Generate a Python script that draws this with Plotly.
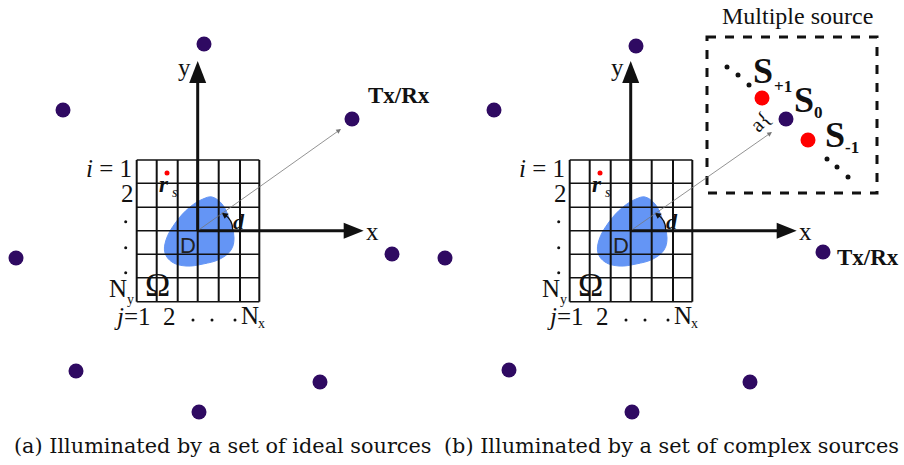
import plotly.graph_objects as go

W, H = 904, 465
OFF_B = 433  # horizontal offset of panel (b)

# Tx/Rx source positions (pixel coordinates of the diagram)
src_a_x = [204, 63, 352, 16, 392, 76, 320, 199]
src_a_y = [44, 110, 119, 258, 254, 371, 382, 412]
src_b_x = [636, 494, 445, 823, 509, 750, 632]
src_b_y = [46, 110, 258, 252, 370, 382, 412]

# multiple source inset
s0_x, s0_y = [786], [119]
red_src_x = [762, 808]
red_src_y = [98, 140]
small_dot_x = [727, 738, 749, 827, 837, 848]
small_dot_y = [67, 75, 85, 159, 167, 177]

# grid (Omega) edges for panel (a)
grid_cols = [136.7, 156.7, 177.7, 197.7, 218.7, 240.0, 259.3]
grid_rows = [160.0, 183.3, 207.3, 230.7, 254.3, 277.7, 301.7]
origin = (197.7, 230.7)

# scatterer D outline
blob_x = [212, 203, 190, 176, 166, 165, 172, 186, 203, 220, 231, 234, 229, 222]
blob_y = [197, 199, 207, 222, 240, 253, 262, 266, 264, 259, 250, 238, 218, 204]

# red point r_s
rs_x, rs_y = 167, 173

# ellipsis dots (row index column and column index row)
row_dots_y = [221.7, 247.7, 272.7]
col_dots_x = [193, 212, 235]

# labels
caption_a = "(a) Illuminated by a set of ideal sources"
caption_b = "(b) Illuminated by a set of complex sources"

PURPLE = "#2f0a62"
BLUE = "#6495f5"
SERIF = "Liberation Serif"
INK = "#111"

fig = go.Figure()
shapes = []
ann = []


def txt(x, y, text, size, family=SERIF, color=INK, **kw):
    d = dict(x=x, y=y, text=text, showarrow=False, borderpad=0,
             font=dict(family=family, size=size, color=color))
    d.update(kw)
    ann.append(d)


def panel(dx, tx_label_pos):
    cols = [c + dx for c in grid_cols]
    ox, oy = origin[0] + dx, origin[1]
    # blob
    fig.add_trace(go.Scatter(x=[v + dx for v in blob_x] + [blob_x[0] + dx],
                             y=blob_y + [blob_y[0]], mode="lines",
                             line=dict(shape="spline", color=BLUE, width=1, smoothing=1.1),
                             fill="toself", fillcolor=BLUE, hoverinfo="skip"))
    # grid lines
    for c in cols:
        shapes.append(dict(type="line", x0=c, x1=c, y0=grid_rows[0], y1=grid_rows[-1],
                           line=dict(color=INK, width=2), layer="above"))
    for r in grid_rows:
        shapes.append(dict(type="line", x0=cols[0], x1=cols[-1], y0=r, y1=r,
                           line=dict(color=INK, width=1.4), layer="above"))
    # axes
    shapes.append(dict(type="line", x0=ox, x1=ox, y0=oy, y1=82,
                       line=dict(color=INK, width=3), layer="above"))
    shapes.append(dict(type="line", x0=ox, x1=ox + 148, y0=oy, y1=oy,
                       line=dict(color=INK, width=3), layer="above"))
    shapes.append(dict(type="path", path=f"M {ox} 61 L {ox-8.5} 83 L {ox+8.5} 83 Z",
                       fillcolor=INK, line=dict(width=0), layer="above"))
    shapes.append(dict(type="path",
                       path=f"M {ox+166} {oy} L {ox+146} {oy-8} L {ox+146} {oy+8} Z",
                       fillcolor=INK, line=dict(width=0), layer="above"))
    txt(ox - 13, 67, "y", 25)
    txt(ox + 175, 231, "x", 25)
    # d arc arrow
    shapes.append(dict(type="path", path=f"M {ox+35} {oy-1} Q {ox+35} {oy-11} {ox+27} {oy-16}",
                       line=dict(color=INK, width=1.3), layer="above"))
    shapes.append(dict(type="path",
                       path=f"M {ox+24} {oy-18} L {ox+31} {oy-17} L {ox+27} {oy-12} Z",
                       fillcolor=INK, line=dict(width=0), layer="above"))
    txt(ox + 41, 221, "<b><i>d</i></b>", 22)
    txt(ox - 10, 245, "D", 22, family="Liberation Sans", color="#222")
    # r_s
    fig.add_trace(go.Scatter(x=[rs_x + dx], y=[rs_y], mode="markers",
                             marker=dict(color="red", size=5), hoverinfo="skip"))
    txt(rs_x + dx - 3, 184, "<b><i>r</i></b>", 23)
    txt(rs_x + dx + 8, 192, "<i>s</i>", 14)
    # row / column labels
    txt(cols[0] - 4, 168, "<i>i</i> = 1", 25, xanchor="right")
    txt(cols[0] - 9, 193, "2", 25)
    txt(cols[0] - 19, 288, "N", 25)
    txt(cols[0] - 6, 299, "y", 14)
    txt(cols[0] + 21, 284, "Ω", 34)
    txt(cols[0] - 4, 316, "<i>j</i>=1", 25)
    txt(cols[0] + 33, 316, "2", 25)
    txt(cols[0] + 113, 315, "N", 25)
    txt(cols[0] + 125, 323, "x", 14)
    fig.add_trace(go.Scatter(
        x=[cols[0] - 11] * len(row_dots_y) + [v + dx for v in col_dots_x],
        y=row_dots_y + [320] * len(col_dots_x),
        mode="markers", marker=dict(color=INK, size=3), hoverinfo="skip"))
    txt(tx_label_pos[0], tx_label_pos[1], "<b>Tx/Rx</b>", 23)


panel(0, (399, 95))
panel(OFF_B, (868, 257))

# thin direction arrows
ann.append(dict(x=341, y=129, ax=origin[0], ay=origin[1], axref="x", ayref="y",
                showarrow=True, arrowhead=2, arrowsize=1.2, arrowwidth=0.8, arrowcolor="#777",
                text=""))
ann.append(dict(x=772, y=132, ax=origin[0] + OFF_B, ay=origin[1], axref="x", ayref="y",
                showarrow=True, arrowhead=2, arrowsize=1.2, arrowwidth=0.8, arrowcolor="#777",
                text=""))

# sources
fig.add_trace(go.Scatter(x=src_a_x, y=src_a_y, mode="markers",
                         marker=dict(color=PURPLE, size=15), hoverinfo="skip"))
fig.add_trace(go.Scatter(x=src_b_x, y=src_b_y, mode="markers",
                         marker=dict(color=PURPLE, size=15), hoverinfo="skip"))

# multiple source inset
shapes.append(dict(type="rect", x0=707, x1=877, y0=37, y1=193,
                   line=dict(color=INK, width=3, dash="dash")))
txt(797, 16, "Multiple source", 24)
fig.add_trace(go.Scatter(x=small_dot_x, y=small_dot_y, mode="markers",
                         marker=dict(color=INK, size=5), hoverinfo="skip"))
fig.add_trace(go.Scatter(x=red_src_x, y=red_src_y, mode="markers",
                         marker=dict(color="#ff0000", size=15), hoverinfo="skip"))
fig.add_trace(go.Scatter(x=s0_x, y=s0_y, mode="markers",
                         marker=dict(color=PURPLE, size=15), hoverinfo="skip"))
txt(763, 71, "<b>S</b>", 36)
txt(783, 86, "<b>+1</b>", 17)
txt(804, 100, "<b>S</b>", 36)
txt(818, 112, "<b>0</b>", 17)
txt(835, 135, "<b>S</b>", 36)
txt(852, 147, "<b>-1</b>", 17)
txt(760, 122, "a{", 21, textangle=-45)

# captions
txt(222, 446, caption_a, 20.8, family="DejaVu Serif")
txt(671, 446, caption_b, 20.8, family="DejaVu Serif")

for a in ann:
    a.setdefault("xref", "x")
    a.setdefault("yref", "y")

fig.update_layout(
    width=W, height=H, margin=dict(l=0, r=0, t=0, b=0),
    paper_bgcolor="white", plot_bgcolor="white", showlegend=False,
    xaxis=dict(range=[0, W], visible=False, fixedrange=True),
    yaxis=dict(range=[H, 0], visible=False, fixedrange=True),
    shapes=shapes, annotations=ann,
)
fig.write_html("out.html", config={"displayModeBar": False},
               post_script="document.body.style.margin='0px';")
